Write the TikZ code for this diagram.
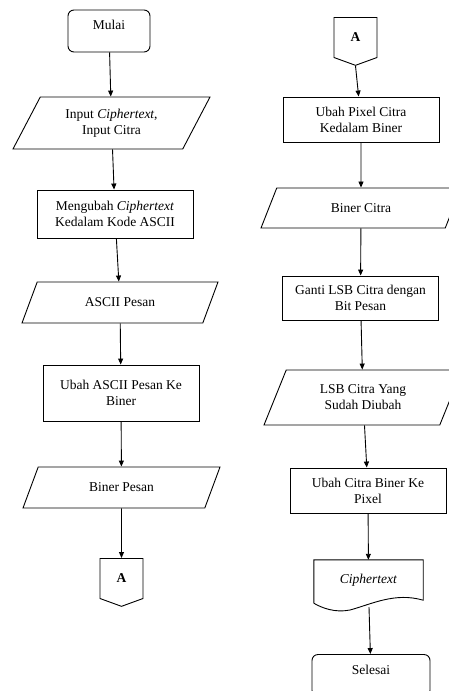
\documentclass[tikz,border=0pt]{standalone}
\usepackage{fontspec}
\setmainfont{Liberation Serif}
\usetikzlibrary{positioning, arrows.meta, shapes.geometric, shapes.symbols, calc}

\begin{document}
\begin{tikzpicture}[x=1pt, y=-1pt,
    every node/.style={font=\fontsize{13.5}{16}\selectfont, align=center},
    term/.style={rectangle, draw, rounded corners=6pt, line width=0.9pt, minimum width=#1, minimum height=42pt, text height=10pt, text depth=13pt},
    proc/.style={rectangle, draw, line width=0.9pt, minimum width=156pt, minimum height=#1},
    io/.style={trapezium, draw, line width=0.9pt, trapezium stretches body, inner xsep=0pt},
    conn/.style={signal, signal to=south, signal pointer angle=140, draw, line width=0.9pt, minimum width=43pt, minimum height=43pt, font=\fontsize{13.5}{16}\selectfont\bfseries},
    docu/.style={rectangle, minimum width=109pt, minimum height=40pt},
    flow/.style={-{Triangle[length=6pt, width=5pt]}, line width=0.9pt}]

    \useasboundingbox (0,0) rectangle (449,691);
    \clip (0,0) rectangle (449,691);

    % kolom kiri
    \node[term=82pt] (mulai) at (109,31) {Mulai};
    \node[io, trapezium left angle=52, trapezium right angle=128, minimum width=197pt, minimum height=52pt] (inp) at (111.5,123) {Input \textit{Ciphertext},\\Input Citra};
    \node[proc=48pt] (ubahcip) at (115,214) {Mengubah \textit{Ciphertext}\\Kedalam Kode ASCII};
    \node[io, trapezium left angle=46, trapezium right angle=134, minimum width=196pt, minimum height=41pt] (ascii) at (120,302.5) {ASCII Pesan};
    \node[proc=56pt] (ubahascii) at (121,393) {Ubah ASCII Pesan Ke\\Biner};
    \node[io, trapezium left angle=46, trapezium right angle=134, minimum width=197pt, minimum height=41pt] (binpesan) at (121.5,487.5) {Biner Pesan};
    \node[conn] (keA) at (121.5,578.5) {A};

    % kolom kanan
    \node[conn] (dariA) at (355.5,37.5) {A};
    \node[proc=45pt] (ubahpix) at (361,119.5) {Ubah Pixel Citra\\Kedalam Biner};
    \node[io, trapezium left angle=45, trapezium right angle=135, minimum width=200pt, minimum height=40pt] (bincitra) at (361,208) {Biner Citra};
    \node[proc=44pt] (ganti) at (360.5,298) {Ganti LSB Citra dengan\\Bit Pesan};
    \node[io, trapezium left angle=55, trapezium right angle=125, minimum width=198pt, minimum height=55pt] (lsb) at (363,397.5) {LSB Citra Yang\\Sudah Diubah};
    \node[proc=45pt] (ubahbin) at (368,490.5) {Ubah Citra Biner Ke\\Pixel};
    \node[docu] (cipher) at (368.5,580) {\textit{Ciphertext}};
    \draw[line width=0.9pt] ($(cipher.south west)+(0,3)$) -- (cipher.north west) -- (cipher.north east) -- (cipher.south east)
        .. controls (395,592) and (372,604) .. (350,610) .. controls (335,613) and (322,608) .. ($(cipher.south west)+(0,3)$);
    \coordinate (cipherb) at (369,607);
    \node[term=118pt] (selesai) at (371,675.5) {Selesai};

    \draw[flow] (mulai) -- (inp);
    \draw[flow] (inp) -- (ubahcip);
    \draw[flow] (ubahcip) -- (ascii);
    \draw[flow] (ascii) -- (ubahascii);
    \draw[flow] (ubahascii) -- (binpesan);
    \draw[flow] (binpesan) -- (keA);

    \draw[flow] (dariA.south) -- (ubahpix);
    \draw[flow] (ubahpix) -- (bincitra);
    \draw[flow] (bincitra) -- (ganti);
    \draw[flow] (ganti) -- (lsb);
    \draw[flow] (lsb) -- (ubahbin);
    \draw[flow] (ubahbin) -- (cipher);
    \draw[flow] (cipherb) -- (selesai);
  \end{tikzpicture}
\end{document}
